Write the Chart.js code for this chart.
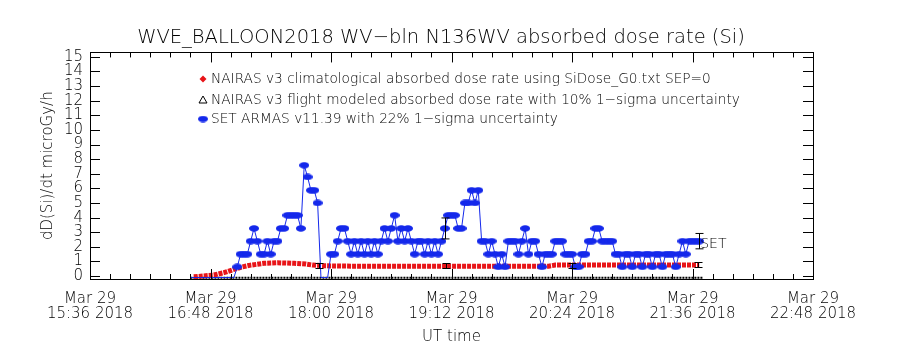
<!DOCTYPE html>
<html>
<head>
<meta charset="utf-8">
<script src="https://cdn.jsdelivr.net/npm/chart.js@4/dist/chart.umd.min.js"></script>
<style>
  html, body { margin: 0; padding: 0; background: #fff; }
</style>
</head>
<body>
<canvas id="chart" width="900" height="350"></canvas>
<script>
// --- data (times are UT on Mar 29 2018) ---
const xTickTimes = ['15:36', '16:48', '18:00', '19:12', '20:24', '21:36', '22:48'];
const xTickDate = 'Mar 29';
const xTickYear = '2018';
const yTicks = [0, 1, 2, 3, 4, 5, 6, 7, 8, 9, 10, 11, 12, 13, 14, 15];

// SET ARMAS dose rate, one sample every 2 minutes starting at 16:36
const setStart = '16:36';
const setStepMin = 2;
const setValues = [
  -0.1, -0.1, -0.1, -0.1, -0.1, -0.1, -0.1, -0.1, -0.1, -0.1, -0.1, -0.1, -0.1, -0.1,
  0.63, 1.5, 1.5, 1.5, 2.39, 3.26, 2.39, 1.5, 1.5, 2.39,
  1.5, 2.39, 2.39, 3.26, 3.26, 4.16, 4.16, 4.16, 4.16, 3.26,
  7.58, 6.78, 5.87, 5.87, 5.0, -0.1, -0.1, -0.1, 1.5, 1.5,
  2.39, 3.26, 3.26, 2.39, 1.5, 2.39, 1.5, 2.39, 1.5, 2.39,
  1.5, 2.39, 1.5, 2.39, 3.26, 2.39, 3.26, 4.16, 2.39, 3.26,
  2.39, 3.26, 2.39, 1.5, 2.39, 2.39, 1.5, 2.39, 1.5, 2.39,
  1.5, 2.39, 3.26, 4.16, 4.16, 4.16, 3.26, 3.26, 5.0, 5.0,
  5.87, 5.0, 5.87, 2.39, 2.39, 1.5, 2.39, 1.5, 0.63, 1.5,
  0.63, 2.39, 2.39, 2.39, 1.5, 2.39, 3.26, 1.5, 2.39, 2.39,
  1.5, 0.63, 1.5, 1.5, 1.5, 2.39, 2.39, 2.39, 1.5, 1.5,
  1.5, 0.63, 0.63, 1.5, 1.5, 2.39, 2.39, 3.26, 3.26, 2.39,
  2.39, 2.39, 2.39, 1.5, 1.5, 0.63, 1.5, 1.5, 0.63, 1.5,
  1.5, 0.63, 1.5, 1.5, 0.63, 1.5, 1.5, 0.63, 1.5, 1.5,
  1.5, 0.63, 1.5, 2.39, 1.5, 2.39, 2.39, 2.39, 2.39
];
const setErrTimes = ['19:08', '21:40'];
const setSigma = 0.22;

// NAIRAS climatological dose rate
const climTimes = ['16:38', '16:50', '16:56', '17:02', '17:07', '17:12', '17:20', '17:28',
  '17:38', '17:45', '17:49', '17:57', '18:12', '20:10', '20:14', '21:40'];
const climValues = [-0.05, 0.07, 0.23, 0.46, 0.63, 0.75, 0.87, 0.91,
  0.87, 0.82, 0.75, 0.70, 0.68, 0.68, 0.75, 0.75];

// NAIRAS flight modeled dose rate
const flightTimes = ['16:36', '21:42'];
const flightValues = [-0.12, -0.12];
const flightErrTimes = ['17:53', '19:09', '20:24', '21:39'];
const flightErrValues = [0.72, 0.70, 0.72, 0.75];
const flightSigma = 0.10;

const legendLabels = [
  'NAIRAS v3 climatological absorbed dose rate using SiDose_G0.txt SEP=0',
  'NAIRAS v3 flight modeled absorbed dose rate with 10% 1\u2212sigma uncertainty',
  'SET ARMAS v11.39 with 22% 1\u2212sigma uncertainty'
];

// --- helpers ---
const FONT = 'DejaVu Sans';
const BLUE = 'rgb(20, 40, 235)';
const RED = 'rgb(232, 20, 24)';

function toMin(hhmm) {
  const p = hhmm.split(':');
  return Number(p[0]) * 60 + Number(p[1]);
}

const setPoints = setValues.map((v, i) => ({ x: toMin(setStart) + i * setStepMin, y: v }));
const climPoints = climTimes.map((t, i) => ({ x: toMin(t), y: climValues[i] }));
const flightPoints = flightTimes.map((t, i) => ({ x: toMin(t), y: flightValues[i] }));

function setValueAt(t) {
  const m = toMin(t);
  const p = setPoints.find(q => q.x === m);
  return p ? p.y : 0;
}

// blue oval marker used for the SET samples
const oval = document.createElement('canvas');
oval.width = 10;
oval.height = 7;
(function () {
  const o = oval.getContext('2d');
  o.fillStyle = BLUE;
  o.beginPath();
  o.ellipse(5, 3.5, 5, 3.2, 0, 0, 2 * Math.PI);
  o.fill();
})();

// frame + inward ticks like the IDL plot
const framePlugin = {
  id: 'frame',
  afterDraw(chart) {
    const { ctx, chartArea: a, scales } = chart;
    ctx.save();
    ctx.strokeStyle = '#000';
    ctx.lineWidth = 1;
    ctx.strokeRect(Math.round(a.left) + 0.5, Math.round(a.top) + 0.5,
      Math.round(a.right - a.left), Math.round(a.bottom - a.top));
    ctx.beginPath();
    scales.y.ticks.forEach(t => {
      const y = Math.round(scales.y.getPixelForValue(t.value)) + 0.5;
      ctx.moveTo(a.left, y); ctx.lineTo(a.left + 10, y);
      ctx.moveTo(a.right, y); ctx.lineTo(a.right - 10, y);
    });
    const x0 = scales.x.min, x1 = scales.x.max;
    for (let m = x0; m <= x1; m += 12) {
      const len = (m - x0) % 72 === 0 ? 10 : 5;
      const x = Math.round(scales.x.getPixelForValue(m)) + 0.5;
      ctx.moveTo(x, a.bottom); ctx.lineTo(x, a.bottom - len);
      ctx.moveTo(x, a.top); ctx.lineTo(x, a.top + len);
    }
    ctx.stroke();
    ctx.restore();
  }
};

function drawErrBar(ctx, x, yLo, yHi, cap) {
  ctx.moveTo(x, yLo); ctx.lineTo(x, yHi);
  ctx.moveTo(x - cap, yLo); ctx.lineTo(x + cap, yLo);
  ctx.moveTo(x - cap, yHi); ctx.lineTo(x + cap, yHi);
}

const errPlugin = {
  id: 'errbars',
  afterDatasetsDraw(chart) {
    const { ctx, scales } = chart;
    const xs = scales.x, ys = scales.y;
    ctx.save();
    ctx.strokeStyle = '#000';
    ctx.lineWidth = 1;
    ctx.beginPath();
    setErrTimes.forEach(t => {
      const v = setValueAt(t);
      const x = Math.round(xs.getPixelForValue(toMin(t))) + 0.5;
      drawErrBar(ctx, x, ys.getPixelForValue(v - v * setSigma),
        ys.getPixelForValue(v + v * setSigma), 4);
    });
    flightErrTimes.forEach((t, i) => {
      const v = flightErrValues[i];
      const x = Math.round(xs.getPixelForValue(toMin(t))) + 0.5;
      drawErrBar(ctx, x, Math.round(ys.getPixelForValue(v - v * flightSigma)) + 1.5,
        Math.round(ys.getPixelForValue(v + v * flightSigma)) - 1.5, 4);
    });
    ctx.stroke();
    // SET tag at the end of the series
    const last = setPoints[setPoints.length - 1];
    ctx.fillStyle = '#000';
    ctx.font = '200 14px "' + FONT + '"';
    ctx.textBaseline = 'middle';
    ctx.textAlign = 'left';
    ctx.fillText('SET', xs.getPixelForValue(last.x) + 1, ys.getPixelForValue(last.y) + 3);
    ctx.restore();
  }
};

const legendPlugin = {
  id: 'insideLegend',
  afterDraw(chart) {
    const { ctx } = chart;
    const sx = 203, tx = 211, rows = [79, 100, 119];
    ctx.save();
    ctx.font = '200 13.7px "' + FONT + '"';
    ctx.fillStyle = '#000';
    ctx.textBaseline = 'middle';
    ctx.textAlign = 'left';
    legendLabels.forEach((txt, i) => ctx.fillText(txt, tx, rows[i]));
    // red diamond
    ctx.fillStyle = RED;
    ctx.beginPath();
    ctx.moveTo(sx, rows[0] - 3.5); ctx.lineTo(sx + 3.5, rows[0]);
    ctx.lineTo(sx, rows[0] + 3.5); ctx.lineTo(sx - 3.5, rows[0]);
    ctx.closePath(); ctx.fill();
    // black triangle
    ctx.strokeStyle = '#000';
    ctx.beginPath();
    ctx.moveTo(sx, rows[1] - 4); ctx.lineTo(sx + 4, rows[1] + 3); ctx.lineTo(sx - 4, rows[1] + 3);
    ctx.closePath(); ctx.stroke();
    // blue oval
    ctx.drawImage(oval, sx - 5, rows[2] - 3.5);
    ctx.restore();
  }
};

new Chart(document.getElementById('chart'), {
  type: 'line',
  data: {
    datasets: [
      {
        label: 'flight',
        data: flightPoints,
        borderColor: '#000',
        borderWidth: 2,
        borderDash: [2, 1],
        pointRadius: 0,
        order: 3
      },
      {
        label: 'clim',
        data: climPoints,
        borderColor: RED,
        borderWidth: 5,
        borderDash: [4, 1],
        pointRadius: 0,
        tension: 0,
        order: 2
      },
      {
        label: 'SET',
        data: setPoints,
        borderColor: BLUE,
        borderWidth: 1,
        pointStyle: oval,
        // samples sitting on the floor show only as the connecting line
        pointRadius: c => (c.raw && c.raw.y < 0 ? 0 : 4),
        tension: 0,
        order: 1
      }
    ]
  },
  options: {
    responsive: false,
    animation: false,
    layout: { padding: { left: 0, right: 18, top: 0, bottom: 0 } },
    plugins: {
      legend: { display: false },
      tooltip: { enabled: false },
      title: {
        display: true,
        text: 'WVE_BALLOON2018 WV\u2212bln N136WV absorbed dose rate (Si)',
        color: '#000',
        font: { family: FONT, size: 19.5, weight: '200', lineHeight: 1.1 },
        padding: { top: 27, bottom: 4 }
      }
    },
    scales: {
      x: {
        type: 'linear',
        min: toMin(xTickTimes[0]),
        max: toMin(xTickTimes[xTickTimes.length - 1]),
        grid: { display: false, drawTicks: false },
        border: { display: false },
        afterBuildTicks(scale) {
          scale.ticks = xTickTimes.map(t => ({ value: toMin(t) }));
        },
        afterFit(scale) { scale.height = 71; },
        ticks: {
          autoSkip: false,
          maxRotation: 0,
          padding: 13,
          color: '#000',
          font: { family: FONT, size: 15, weight: '200', lineHeight: 1.0 },
          callback(value) {
            const hh = String(Math.floor(value / 60)).padStart(2, '0');
            const mm = String(value % 60).padStart(2, '0');
            return [xTickDate, hh + ':' + mm + ' ' + xTickYear];
          }
        },
        title: {
          display: true,
          text: 'UT time',
          color: '#000',
          font: { family: FONT, size: 15, weight: '200' },
          padding: { top: 0, bottom: 4 }
        }
      },
      y: {
        min: -0.2,
        max: 15.3,
        grid: { display: false, drawTicks: false },
        border: { display: false },
        afterBuildTicks(scale) {
          scale.ticks = yTicks.map(v => ({ value: v }));
        },
        afterFit(scale) { scale.width = 90; },
        ticks: {
          autoSkip: false,
          padding: 7,
          color: '#000',
          font: { family: FONT, size: 15, weight: '200' }
        },
        title: {
          display: true,
          text: 'dD(Si)/dt microGy/h',
          color: '#000',
          font: { family: FONT, size: 15, weight: '200' },
          padding: { top: 39, bottom: 0 }
        }
      },
      // empty right-hand axis that only reserves the space right of the frame
      yRight: {
        position: 'right',
        min: -0.2,
        max: 15.3,
        grid: { display: false, drawTicks: false },
        border: { display: false },
        ticks: { display: false },
        afterFit(scale) { scale.width = 69; }
      }
    }
  },
  plugins: [framePlugin, errPlugin, legendPlugin]
});
</script>
</body>
</html>
